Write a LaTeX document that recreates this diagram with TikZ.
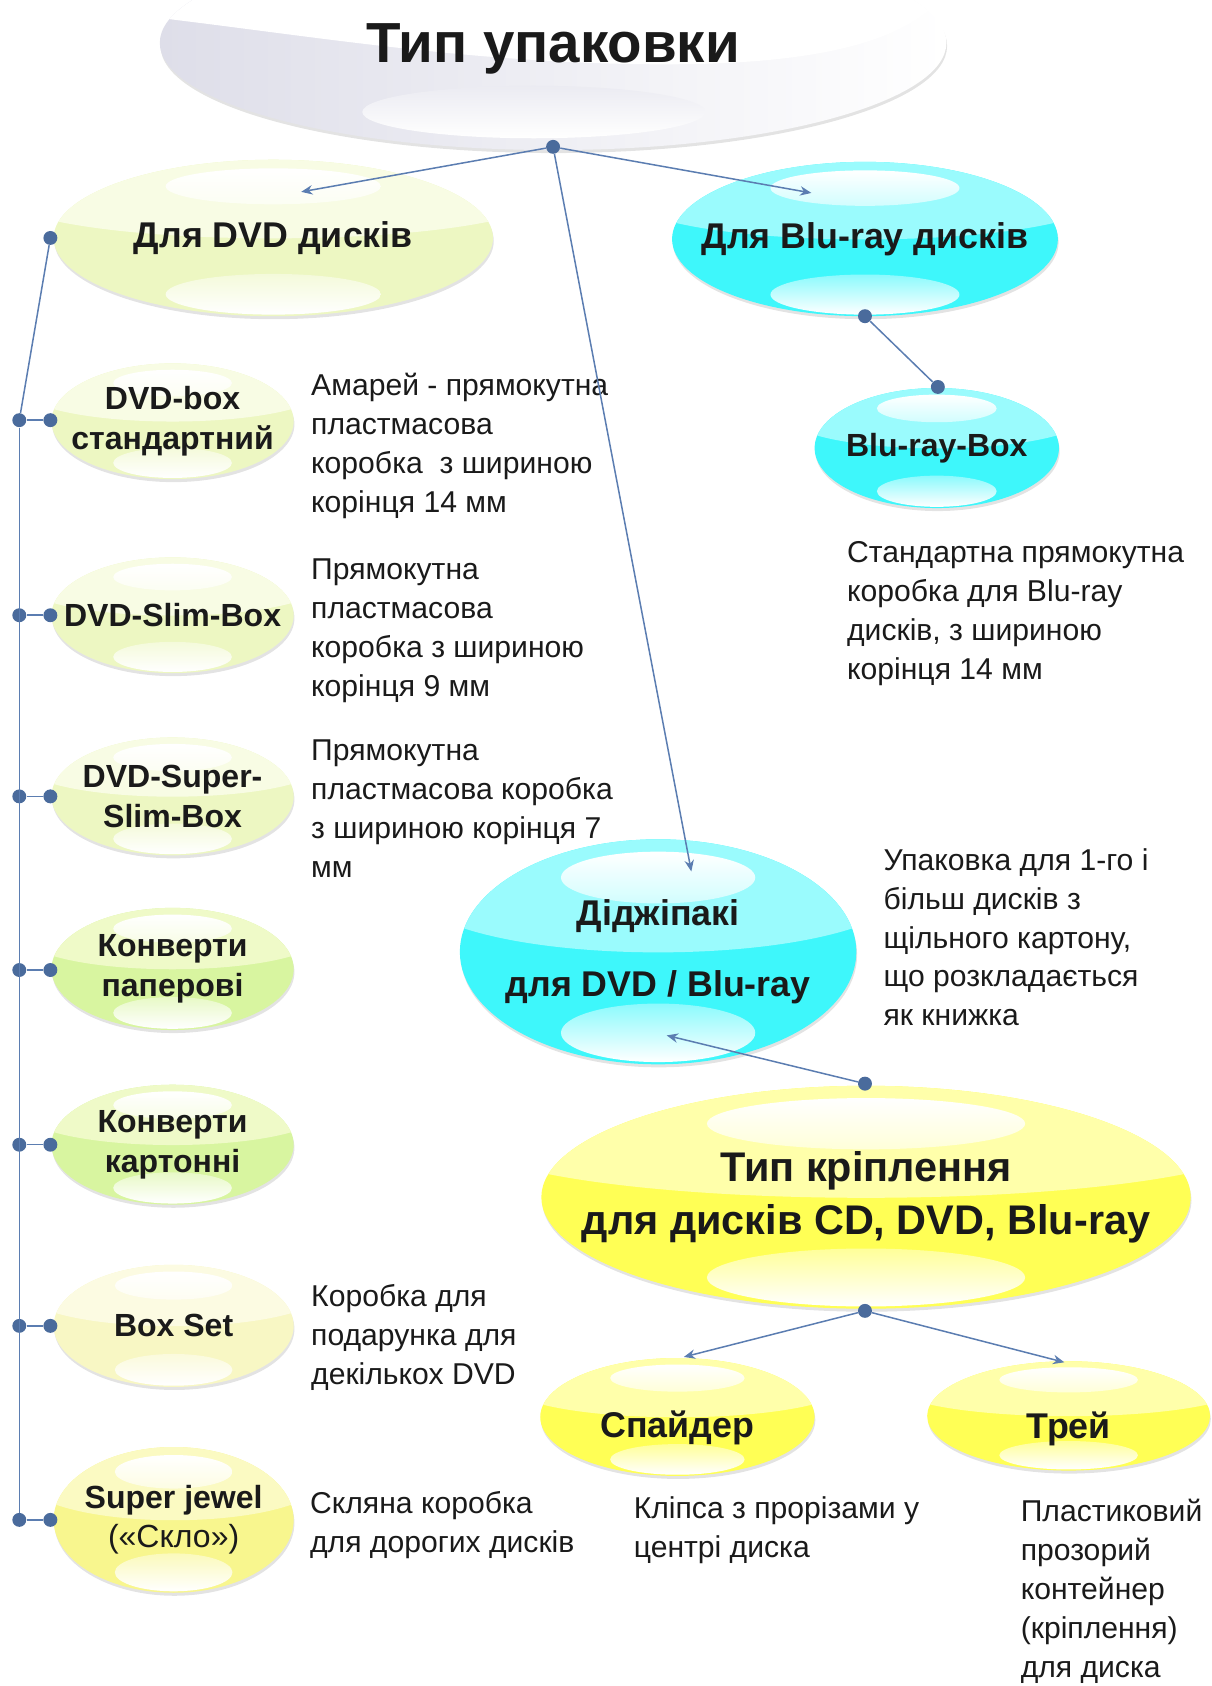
\documentclass[tikz,border=0pt]{standalone}
\usepackage{fontspec}
\setmainfont{Liberation Sans}
\usetikzlibrary{shapes.geometric,shadows,arrows.meta}
\definecolor{lineblue}{HTML}{5B7DB1}
\definecolor{dotblue}{HTML}{4A6B9C}
\definecolor{txt}{HTML}{1A1A1A}
\definecolor{headgray}{HTML}{DEDEE9}
\definecolor{cyanlo}{HTML}{3EF7FB}
\definecolor{cyanhi}{HTML}{9AFBFD}
\definecolor{dvdlo}{HTML}{EDF7C2}
\definecolor{dvdhi}{HTML}{F8FCE4}
\definecolor{envlo}{HTML}{D8F5A0}
\definecolor{envhi}{HTML}{EFFAC8}
\definecolor{setlo}{HTML}{F8F7C4}
\definecolor{sethi}{HTML}{FCFBE2}
\definecolor{jewlo}{HTML}{F8F68E}
\definecolor{jewhi}{HTML}{FBFAC2}
\definecolor{yello}{HTML}{FFFF55}
\definecolor{yelhi}{HTML}{FFFFAA}

\tikzset{
  bubble/.style n args={4}{ellipse, inner sep=0pt, fill=#1,
    minimum width=2*#3cm, minimum height=2*#4cm,
    drop shadow={opacity=0.22, shadow xshift=0.4pt, shadow yshift=-1.6pt},
    path picture={
      \begin{scope}[shift={(path picture bounding box.center)}]
        \fill[#2] (-#3cm,0.22*#4cm) .. controls (-0.5*#3cm,-0.08*#4cm) and (0.5*#3cm,-0.08*#4cm) .. (#3cm,0.22*#4cm) -- (#3cm,#4cm) -- (-#3cm,#4cm) -- cycle;
        \shade[top color=white, middle color=white, bottom color=#2!45!white] (0,0.66*#4cm) ellipse [x radius=0.49*#3cm, y radius=0.23*#4cm];
        \shade[top color=#1!60!white, middle color=white, bottom color=white] (0,-0.72*#4cm) ellipse [x radius=0.49*#3cm, y radius=0.26*#4cm];
      \end{scope}}},
  bubtext/.style 2 args={align=center, text=txt, inner sep=0pt, font=\bfseries\fontsize{#1}{#2}\selectfont},
  desc/.style={anchor=north west, align=left, inner sep=0pt, text=txt, font=\fontsize{16pt}{20.7pt}\selectfont},
  dotn/.style={circle, fill=dotblue, inner sep=0pt, minimum size=0.26cm},
  link/.style={draw=lineblue, line width=0.8pt},
  arr/.style={link, -{Stealth[length=6pt,width=5pt]}},
}

\begin{document}
\begin{tikzpicture}[x=0.02cm,y=-0.02cm]
  \useasboundingbox (0,0) rectangle (1130,1573);

  \node[ellipse, inner sep=0pt, minimum width=14.68cm, minimum height=4cm,
    left color=headgray, middle color=headgray, right color=white,
    drop shadow={opacity=0.22, shadow xshift=0.4pt, shadow yshift=-1.6pt},
    path picture={
      \begin{scope}[shift={(path picture bounding box.center)}]
        \fill[white] (-7.6cm,1cm) -- (-7.3cm,0.46cm) .. controls (-4.32cm,0.1cm) and (-1.32cm,-0.4cm) .. (2.08cm,-0.4cm)
          .. controls (4.88cm,-0.4cm) and (6.68cm,0cm) .. (7.38cm,1cm) -- (7.6cm,2.1cm) -- (-7.6cm,2.1cm) -- cycle;
        \shade[top color=headgray!60!white, middle color=white, bottom color=white] (-0.36cm,-1.29cm) ellipse [x radius=3.2cm, y radius=0.49cm];
      \end{scope}},
    label={[bubtext={30pt}{36pt},name=titleL,yshift=-3pt]center:Тип упаковки}] (title) at (516,40) {};

  \node[bubble={dvdlo}{dvdhi}{4.1}{1.46}, label={[bubtext={19pt}{23pt},name=dvdL]center:Для DVD дисків}] (dvd) at (255,222) {};
  \node[bubble={cyanlo}{cyanhi}{3.6}{1.44}, label={[bubtext={19pt}{23pt},name=bluL]center:Для Blu-ray дисків}] (blu) at (807,223) {};

  \node[bubble={dvdlo}{dvdhi}{2.26}{1.08}, label={[bubtext={17pt}{21pt},name=box1L]center:DVD-box\\стандартний}] (box1) at (161,393) {};
  \node[bubble={dvdlo}{dvdhi}{2.26}{1.08}, label={[bubtext={17pt}{21pt},name=box2L]center:DVD-Slim-Box}] (box2) at (161,574) {};
  \node[bubble={dvdlo}{dvdhi}{2.26}{1.1}, label={[bubtext={17pt}{21pt},name=box3L]center:DVD-Super-\\Slim-Box}] (box3) at (161,743) {};
  \node[bubble={envlo}{envhi}{2.26}{1.14}, label={[bubtext={17pt}{21pt},name=env1L]center:Конверти\\паперові}] (env1) at (161,904) {};
  \node[bubble={envlo}{envhi}{2.26}{1.12}, label={[bubtext={17pt}{21pt},name=env2L]center:Конверти\\картонні}] (env2) at (161,1068) {};
  \node[bubble={setlo}{sethi}{2.24}{1.14}, label={[bubtext={17pt}{21pt},name=bsetL]center:Box Set}] (bset) at (162,1237) {};
  \node[bubble={jewlo}{jewhi}{2.24}{1.36}, label={[bubtext={17pt}{21pt},name=jewelL]center:Super jewel\\{\mdseries(«Скло»)}}] (jewel) at (162,1418) {};

  \node[bubble={cyanlo}{cyanhi}{2.28}{1.12}, label={[bubtext={17pt}{21pt},name=bluboxL]center:Blu-ray-Box}] (blubox) at (874,418) {};
  \node[bubble={cyanlo}{cyanhi}{3.7}{2.1}, label={[bubtext={19pt}{38pt},name=digiL]center:Діджіпакі\\для DVD / Blu-ray}] (digi) at (614,888) {};
  \node[bubble={yello}{yelhi}{6.06}{2.08}, label={[bubtext={22pt}{28pt},name=mountL]center:Тип кріплення\\для дисків CD, DVD, Blu-ray}] (mount) at (808,1117) {};
  \node[bubble={yello}{yelhi}{2.56}{1.1}, label={[bubtext={19pt}{23pt},name=spiderL,yshift=-6pt]center:Спайдер}] (spider) at (632,1322) {};
  \node[bubble={yello}{yelhi}{2.64}{1.02}, label={[bubtext={19pt}{23pt},name=trayL,yshift=-7pt]center:Трей}] (tray) at (997,1321) {};

  \node[desc] (box1D) at (290,348) {Амарей - прямокутна\\пластмасова\\коробка\ \ з шириною\\корінця 14 мм};
  \node[desc] (box2D) at (290,521) {Прямокутна\\пластмасова\\коробка з шириною\\корінця 9 мм};
  \node[desc] (box3D) at (290,690) {Прямокутна\\пластмасова коробка\\з шириною корінця 7\\мм};
  \node[desc] (bsetD) at (290,1198) {Коробка для\\подарунка для\\декількох DVD};
  \node[desc] (jewelD) at (289,1391) {Скляна коробка\\для дорогих дисків};
  \node[desc] (spiderD) at (591,1396) {Кліпса з прорізами у\\центрі диска};
  \node[desc] (trayD) at (952,1398) {Пластиковий\\прозорий\\контейнер\\(кріплення)\\для диска};
  \node[desc] (bluboxD) at (790,505) {Стандартна прямокутна\\коробка для Blu-ray\\дисків, з шириною\\корінця 14 мм};
  \node[desc] (digiD) at (824,791) {Упаковка для 1-го і\\більш дисків з\\щільного картону,\\що розкладається\\як книжка};

  \node[dotn] (topDot) at (516,137) {};
  \node[dotn] (dvdDot) at (47,222) {};
  \node[dotn] (bluDot) at (807,295) {};
  \node[dotn] (bluboxDot) at (875,361) {};
  \node[dotn] (mountTop) at (807,1011) {};
  \node[dotn] (mountBot) at (807,1223) {};
  \node[dotn] (sp1) at (18,392) {};
  \node[dotn] (sp2) at (18,574) {};
  \node[dotn] (sp3) at (18,743) {};
  \node[dotn] (sp4) at (18,905) {};
  \node[dotn] (sp5) at (18,1068) {};
  \node[dotn] (sp6) at (18,1237) {};
  \node[dotn] (sp7) at (18,1418) {};
  \node[dotn] (ch1) at (47,392) {};
  \node[dotn] (ch2) at (47,574) {};
  \node[dotn] (ch3) at (47,743) {};
  \node[dotn] (ch4) at (47,905) {};
  \node[dotn] (ch5) at (47,1068) {};
  \node[dotn] (ch6) at (47,1237) {};
  \node[dotn] (ch7) at (47,1418) {};

  \coordinate (dvdTip) at (281,179);
  \coordinate (bluTip) at (757,180);
  \coordinate (digiTip) at (645,813);
  \coordinate (digiTipB) at (622,966);
  \coordinate (spiderTip) at (638,1266);
  \coordinate (trayTip) at (993,1271);

  \draw[arr] (topDot) -- (dvdTip);
  \draw[arr] (topDot) -- (bluTip);
  \draw[arr] (topDot) -- (digiTip);
  \draw[arr] (mountTop) -- (digiTipB);
  \draw[arr] (mountBot) -- (spiderTip);
  \draw[arr] (mountBot) -- (trayTip);
  \draw[link] (bluDot) -- (bluboxDot);
  \draw[link] (dvdDot) -- (sp1);
  \draw[link] (sp1) -- (sp7);
  \draw[link] (sp1) -- (ch1);
  \draw[link] (sp2) -- (ch2);
  \draw[link] (sp3) -- (ch3);
  \draw[link] (sp4) -- (ch4);
  \draw[link] (sp5) -- (ch5);
  \draw[link] (sp6) -- (ch6);
  \draw[link] (sp7) -- (ch7);
\end{tikzpicture}
\end{document}
